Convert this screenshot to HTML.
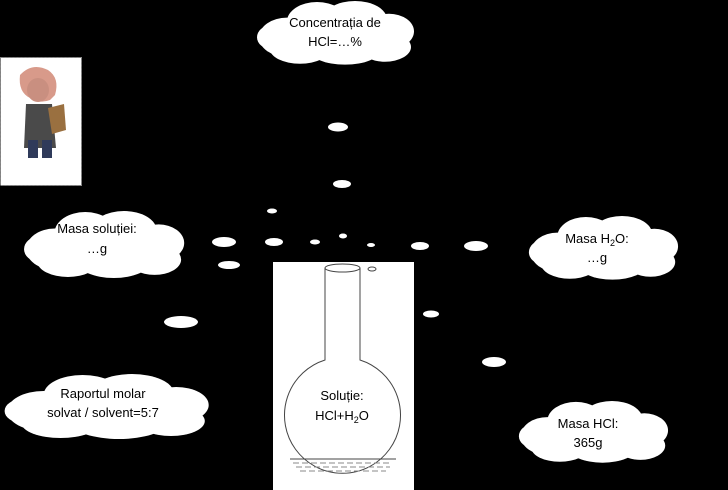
<!DOCTYPE html>
<html><head><meta charset="utf-8"><style>
html,body{margin:0;padding:0;background:#000;width:728px;height:490px;overflow:hidden}
svg{display:block}
text{font-family:"Liberation Sans",sans-serif;font-size:13px;fill:#000}
</style></head><body>
<svg width="728" height="490" viewBox="0 0 728 490" xmlns="http://www.w3.org/2000/svg">
<defs>
<g id="cl" fill="#fff">
<ellipse cx="32" cy="38" rx="28" ry="20"/>
<ellipse cx="62" cy="22" rx="30" ry="20"/>
<ellipse cx="100" cy="20" rx="32" ry="19"/>
<ellipse cx="134" cy="32" rx="25" ry="18"/>
<ellipse cx="130" cy="48" rx="26" ry="15"/>
<ellipse cx="90" cy="50" rx="36" ry="16"/>
<ellipse cx="45" cy="50" rx="30" ry="15"/>
<ellipse cx="16" cy="38" rx="14" ry="12"/>
<ellipse cx="80" cy="35" rx="60" ry="20"/>
</g>
</defs>
<use href="#cl" transform="translate(255,0) scale(1,0.98)"/>
<use href="#cl" transform="translate(22,210) scale(1.02,1.03)"/>
<use href="#cl" transform="translate(527,215) scale(0.95,0.98)"/>
<use href="#cl" transform="translate(2,373) scale(1.3,1.0)"/>
<use href="#cl" transform="translate(517,400) scale(0.95,0.95)"/>
<text x="335" y="27" text-anchor="middle">Concentrația de</text>
<text x="335" y="46" text-anchor="middle">HCl=…%</text>
<text x="97" y="233" text-anchor="middle">Masa soluției:</text>
<text x="97" y="253" text-anchor="middle">…g</text>
<text x="597" y="243" text-anchor="middle">Masa H<tspan font-size="9" dy="3">2</tspan><tspan dy="-3">O:</tspan></text>
<text x="597" y="262" text-anchor="middle">…g</text>
<text x="103" y="398" text-anchor="middle">Raportul molar</text>
<text x="103" y="417" text-anchor="middle">solvat / solvent=5:7</text>
<text x="588" y="428" text-anchor="middle">Masa HCl:</text>
<text x="588" y="447" text-anchor="middle">365g</text>
<g fill="#fff">
<ellipse cx="338" cy="127" rx="10" ry="4.5"/>
<ellipse cx="342" cy="184" rx="9" ry="4"/>
<ellipse cx="272" cy="211" rx="5" ry="2.5"/>
<ellipse cx="224" cy="242" rx="12" ry="5"/>
<ellipse cx="274" cy="242" rx="9" ry="4"/>
<ellipse cx="315" cy="242" rx="5" ry="2.5"/>
<ellipse cx="343" cy="236" rx="4" ry="2.5"/>
<ellipse cx="371" cy="245" rx="4" ry="2"/>
<ellipse cx="420" cy="246" rx="9" ry="4"/>
<ellipse cx="476" cy="246" rx="12" ry="5"/>
<ellipse cx="229" cy="265" rx="11" ry="4"/>
<ellipse cx="181" cy="322" rx="17" ry="6"/>
<ellipse cx="431" cy="314" rx="8" ry="3.5"/>
<ellipse cx="494" cy="362" rx="12" ry="5"/>
</g>
<rect x="0.5" y="57.5" width="81" height="128" fill="#fff" stroke="#888" stroke-dasharray="2 2"/>
<g>
<path d="M20 75 Q32 62 48 70 Q60 78 55 95 L50 100 Q40 104 30 98 Q18 92 20 75Z" fill="#d89a8a"/>
<ellipse cx="38" cy="90" rx="11" ry="12" fill="#c98f80"/>
<path d="M26 104 L52 104 L56 148 L24 148Z" fill="#4a4a4a"/>
<path d="M48 108 L64 104 L66 130 L52 134Z" fill="#9a7040"/>
<rect x="28" y="140" width="10" height="18" fill="#2f3a5a"/>
<rect x="42" y="140" width="10" height="18" fill="#2f3a5a"/>
</g>
<rect x="273" y="262" width="141" height="228" fill="#fff"/>
<path d="M325 268 L325 360 A58 58 0 1 0 360 360 L360 268" fill="none" stroke="#444" stroke-width="1"/>
<ellipse cx="342.5" cy="268" rx="17.5" ry="4" fill="none" stroke="#444"/>
<ellipse cx="372" cy="269" rx="4" ry="2" fill="none" stroke="#444"/>
<path d="M290 459 L396 459" stroke="#444"/>
<g stroke="#888" stroke-dasharray="6 3">
<path d="M293 463 L392 463"/><path d="M296 467 L390 467"/><path d="M300 471 L386 471"/>
</g>
<text x="342" y="400" text-anchor="middle">Soluție:</text>
<text x="342" y="420" text-anchor="middle">HCl+H<tspan font-size="9" dy="3">2</tspan><tspan dy="-3">O</tspan></text>
</svg>
</body></html>
